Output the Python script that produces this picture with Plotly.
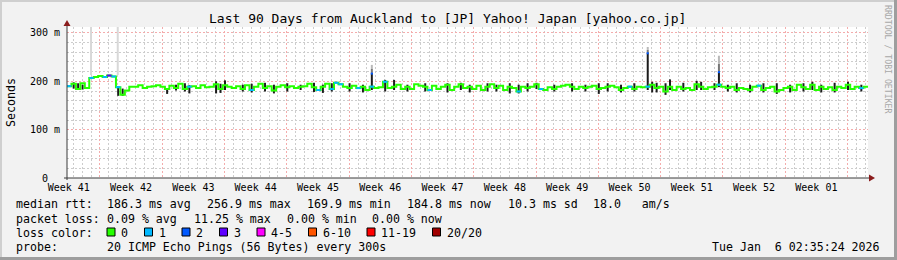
import plotly.graph_objects as go

# ---------------- data ----------------
title_text = "Last 90 Days from Auckland to [JP] Yahoo! Japan [yahoo.co.jp]"
step_days = 0.5  # one median sample every half day
median_ms = [
    190, 195, 184, 196, 186, 207, 209, 211, 209, 212, 210, 188, 172, 181, 189,
    189, 192, 186, 189, 190, 192, 189, 184, 191, 186, 195, 184, 189, 190, 186,
    192, 188, 189, 194, 184, 192, 189, 186, 190, 184, 192, 182, 189, 195, 186,
    190, 181, 189, 192, 188, 190, 186, 189, 190, 195, 188, 182, 189, 195, 184,
    197, 194, 189, 186, 191, 186, 189, 182, 189, 186, 188, 199, 186, 189, 193,
    184, 189, 184, 194, 191, 189, 182, 191, 184, 189, 193, 182, 189, 194, 186,
    189, 184, 191, 182, 189, 194, 186, 191, 182, 189, 186, 179, 189, 186, 189,
    194, 184, 182, 188, 184, 189, 191, 193, 189, 184, 189, 186, 189, 191, 184,
    186, 189, 191, 188, 182, 186, 189, 184, 189, 188, 189, 193, 186, 189, 179,
    189, 182, 189, 184, 186, 182, 194, 189, 184, 188, 189, 193, 189, 186, 189,
    182, 186, 184, 182, 189, 191, 182, 186, 189, 179, 182, 186, 189, 182, 193,
    188, 184, 193, 182, 189, 184, 188, 182, 189, 186, 193, 184, 189, 186, 189,
]
loss_index = [0, 5, 8, 9, 10, 11, 27, 41, 56, 59, 60, 61, 65, 68, 71, 81, 101, 106, 126, 130, 146, 155, 178]
loss_count = [1, 1, 1, 3, 1, 1, 1, 1, 1, 1, 1, 1, 1, 1, 1, 1, 1, 1, 1, 1, 1, 1, 1]

smoke_index = [1, 2, 3, 11, 12, 22, 24, 26, 27, 33, 34, 35, 39, 41, 44, 46, 49, 52, 55, 57, 59,
               63, 66, 68, 71, 73, 76, 80, 85, 88, 90, 94, 96, 99, 101, 103, 105, 109, 113, 116, 119,
               121, 124, 127, 130, 131, 132, 134, 135, 138, 141, 142, 145, 146, 148, 150, 153, 156,
               159, 162, 165, 167, 169, 172, 175, 178]
smoke_lo = [185, 182, 183, 170, 170, 174, 181, 179, 175, 175, 176, 182, 179, 177, 179, 175, 179, 182, 178, 176, 179,
            179, 177, 182, 179, 182, 179, 179, 177, 182, 177, 179, 179, 175, 175, 179, 184, 179, 179, 179, 174,
            179, 177, 179, 182, 177, 177, 172, 182, 179, 182, 182, 182, 188, 179, 177, 177, 177,
            174, 177, 179, 182, 177, 177, 182, 179]
smoke_hi = [198, 196, 193, 189, 185, 186, 193, 196, 192, 200, 195, 202, 193, 195, 197, 193, 196, 193, 197, 193, 196,
            196, 193, 217, 203, 203, 193, 196, 196, 197, 193, 196, 193, 196, 193, 196, 197, 193, 196, 193, 196,
            196, 193, 196, 259, 199, 197, 196, 204, 197, 201, 199, 196, 220, 193, 196, 193, 196,
            196, 193, 196, 199, 193, 197, 199, 193]

spike_index = [68, 130, 146]
spike_lo = [217, 259, 220]
spike_hi = [234, 271, 253]
spike_loss_mark = [216, 258, 219]

outlier_day = [2.7, 5.7, 58.9]
outlier_lo = [213, 213, 185]
outlier_hi = [320, 320, 193]

week_labels = ["Week 41", "Week 42", "Week 43", "Week 44", "Week 45", "Week 46", "Week 47",
               "Week 48", "Week 49", "Week 50", "Week 51", "Week 52", "Week 01"]
week_label_day = [0.2, 7.2, 14.2, 21.2, 28.2, 35.2, 42.2, 49.2, 56.2, 63.2, 70.2, 77.2, 84.2]
week_start_day = [3.7, 10.7, 17.7, 24.7, 31.7, 38.7, 45.7, 52.7, 59.7, 66.7, 73.7, 80.7, 87.7]
x_range = [0, 90]
y_range = [0, 312.4]
y_ticks = [0, 100, 200, 300]
y_tick_text = ["0\u00a0\u00a0", "100 m", "200 m", "300 m"]

loss_levels = ["0", "1", "2", "3", "4-5", "6-10", "11-19", "20/20"]
loss_colors = ["#26ff00", "#00b8ff", "#0059ff", "#5e00ff", "#ff00ff", "#ff5500", "#ff0000", "#a10000"]

stats_rtt = ["186.3 ms avg", "256.9 ms max", "169.9 ms min", "184.8 ms now", "10.3 ms sd", "18.0\u00a0\u00a0\u00a0am/s"]
stats_loss = ["0.09 % avg", "11.25 % max", "0.00 % min", "0.00 % now"]
probe_text = "20 ICMP Echo Pings (56 Bytes) every 300s"
date_text = "Tue Jan\u00a0\u00a06 02:35:24 2026"

# ---------------- geometry helpers (pixels -> paper) ----------------
PL, PR, PT, PB = 67, 868, 27, 178
def px(x):
    return (x - PL) / (PR - PL)
def py(y):
    return (PB - y) / (PB - PT)

def loss_color(c):
    if c <= 3:
        return loss_colors[c]
    if c <= 5:
        return loss_colors[4]
    if c <= 10:
        return loss_colors[5]
    if c <= 19:
        return loss_colors[6]
    return loss_colors[7]

MONO = "DejaVu Sans Mono"
fig = go.Figure()

# outlier smoke (light)
ox, oy = [], []
for d, lo, hi in zip(outlier_day, outlier_lo, outlier_hi):
    ox += [d, d, None]
    oy += [lo, hi, None]
fig.add_trace(go.Scatter(x=ox, y=oy, mode="lines", line=dict(color="#d8d8d8", width=2),
                         hoverinfo="skip", cliponaxis=True))

# spike tops (fading grey)
for frac_lo, frac_hi, col in [(0.0, 0.5, "#777777"), (0.5, 1.0, "#b8b8b8")]:
    sx, sy = [], []
    for i, lo, hi in zip(spike_index, spike_lo, spike_hi):
        d = i * step_days + step_days / 2
        sx += [d, d, None]
        sy += [lo + (hi - lo) * frac_lo, lo + (hi - lo) * frac_hi, None]
    fig.add_trace(go.Scatter(x=sx, y=sy, mode="lines", line=dict(color=col, width=2), hoverinfo="skip"))

# dark smoke bars
sx, sy = [], []
for i, lo, hi in zip(smoke_index, smoke_lo, smoke_hi):
    d = i * step_days + step_days / 2
    sx += [d, d, None]
    sy += [lo, hi, None]
fig.add_trace(go.Scatter(x=sx, y=sy, mode="lines", line=dict(color="#1c1c1c", width=2), hoverinfo="skip"))

# median line (no loss colour)
days = [i * step_days for i in range(len(median_ms))]
fig.add_trace(go.Scatter(x=days + [x_range[1]], y=median_ms + [median_ms[-1]], mode="lines",
                         line=dict(color=loss_colors[0], width=2, shape="hv"), hoverinfo="skip"))

# loss coloured steps
groups = {}
for i, c in zip(loss_index, loss_count):
    col = loss_color(c)
    gx, gy = groups.setdefault(col, ([], []))
    gx += [days[i], days[i] + step_days, None]
    gy += [median_ms[i], median_ms[i], None]
for col, (gx, gy) in groups.items():
    fig.add_trace(go.Scatter(x=gx, y=gy, mode="lines", line=dict(color=col, width=2), hoverinfo="skip"))

# loss marks on spikes
mx, my = [], []
for i, v in zip(spike_index, spike_loss_mark):
    d = i * step_days + step_days / 2
    mx += [d - 0.12, d + 0.12, None]
    my += [v, v, None]
fig.add_trace(go.Scatter(x=mx, y=my, mode="lines", line=dict(color=loss_colors[2], width=2), hoverinfo="skip"))

# axis carrying week labels (overlay)
fig.add_trace(go.Scatter(x=[x_range[0]], y=[0], xaxis="x2", mode="markers",
                         marker=dict(opacity=0), hoverinfo="skip"))

GRID = "#cdcdcd"
MGRID = "#f4acac"
DASH = "2px,2px"

fig.update_layout(
    width=897, height=260,
    margin=dict(l=PL, r=897 - PR, t=PT, b=260 - PB, pad=0),
    paper_bgcolor="#f2f2f2", plot_bgcolor="#ffffff",
    showlegend=False,
    font=dict(family=MONO, size=10, color="#000000"),
    xaxis=dict(range=x_range, tickmode="array", tickvals=week_start_day, showticklabels=False,
               ticks="", showgrid=True, gridcolor=MGRID, griddash=DASH, gridwidth=1,
               zeroline=False, showline=False, fixedrange=True,
               minor=dict(tickmode="linear", tick0=week_start_day[0], dtick=1, showgrid=True,
                          gridcolor=GRID, griddash=DASH, gridwidth=1, ticks="")),
    xaxis2=dict(range=x_range, overlaying="x", side="bottom", tickmode="array",
                tickvals=week_label_day, ticktext=week_labels, showgrid=False, zeroline=False,
                showline=False, ticks="", ticklabelstandoff=2,
                tickfont=dict(family=MONO, size=10, color="#000000")),
    yaxis=dict(range=y_range, tickmode="array", tickvals=y_ticks, ticktext=y_tick_text,
               showgrid=True, gridcolor=MGRID, griddash=DASH, gridwidth=1,
               zeroline=False, showline=False, ticks="", ticklabelstandoff=6,
               tickfont=dict(family=MONO, size=10, color="#000000"),
               minor=dict(tickmode="linear", tick0=0, dtick=20, showgrid=True,
                          gridcolor=GRID, griddash=DASH, gridwidth=1, ticks="")),
)

shapes = []
# frame shading
shapes += [
    dict(type="rect", xref="paper", yref="paper", x0=px(0), x1=px(897), y0=py(0), y1=py(2),
         fillcolor="#cfcfcf", line=dict(width=0), layer="above"),
    dict(type="rect", xref="paper", yref="paper", x0=px(0), x1=px(2), y0=py(0), y1=py(260),
         fillcolor="#cfcfcf", line=dict(width=0), layer="above"),
    dict(type="rect", xref="paper", yref="paper", x0=px(894), x1=px(897), y0=py(0), y1=py(260),
         fillcolor="#9e9e9e", line=dict(width=0), layer="above"),
    dict(type="rect", xref="paper", yref="paper", x0=px(0), x1=px(897), y0=py(257), y1=py(260),
         fillcolor="#9e9e9e", line=dict(width=0), layer="above"),
]
# axes
AX = "#3a3a3a"
shapes += [
    dict(type="line", xref="paper", yref="paper", x0=px(67), x1=px(67), y0=py(180), y1=py(25),
         line=dict(color=AX, width=1), layer="above"),
    dict(type="line", xref="paper", yref="paper", x0=px(64), x1=px(870), y0=py(178), y1=py(178),
         line=dict(color=AX, width=1), layer="above"),
]
ARROW = "#8a1c1c"
shapes += [
    dict(type="path", xref="paper", yref="paper",
         path=f"M {px(67)},{py(20)} L {px(63.5)},{py(26)} L {px(70.5)},{py(26)} Z",
         fillcolor=ARROW, line=dict(width=0), layer="above"),
    dict(type="path", xref="paper", yref="paper",
         path=f"M {px(875)},{py(178)} L {px(869)},{py(174.5)} L {px(869)},{py(181.5)} Z",
         fillcolor=ARROW, line=dict(width=0), layer="above"),
]
# loss colour legend boxes
box_left = [107, 144.5, 182, 219.5, 257, 308.5, 367, 432.5]
for bl, col in zip(box_left, loss_colors):
    shapes.append(dict(type="rect", xref="paper", yref="paper", x0=px(bl), x1=px(bl + 8),
                       y0=py(228), y1=py(236), fillcolor=col,
                       line=dict(color="#000000", width=1), layer="above"))
fig.update_layout(shapes=shapes)

ann = []
def text(x, y, s, size=11.6, anchor="left", color="#000000", angle=0):
    ann.append(dict(x=px(x), y=py(y), xref="paper", yref="paper", text=s, showarrow=False,
                    xanchor=anchor, yanchor="middle", textangle=angle, borderpad=0, borderwidth=0,
                    font=dict(family=MONO, size=size, color=color)))

text(447, 19, title_text, size=13, anchor="center")
text(11, 103, "Seconds", anchor="center", angle=-90)
text(888, 59, "RRDTOOL / TOBI OETIKER", size=8.2, anchor="center", color="#a8a8a8", angle=90)

row_y = [204.5, 218.5, 232.5, 246.5]
text(16, row_y[0], "median rtt:")
for x, s in zip([107.3, 207.3, 307.3, 407.3, 507.5, 593.3], stats_rtt):
    text(x, row_y[0], s)
text(16, row_y[1], "packet loss:")
for x, s in zip([107.3, 194, 286.7, 372.3], stats_loss):
    text(x, row_y[1], s)
text(16, row_y[2], "loss color:")
for bl, lab in zip(box_left, loss_levels):
    text(bl + 14, row_y[2], lab)
text(16, row_y[3], "probe:")
text(107.3, row_y[3], probe_text)
text(880, row_y[3], date_text, anchor="right")
fig.update_layout(annotations=ann)

fig.write_html("out.html")
